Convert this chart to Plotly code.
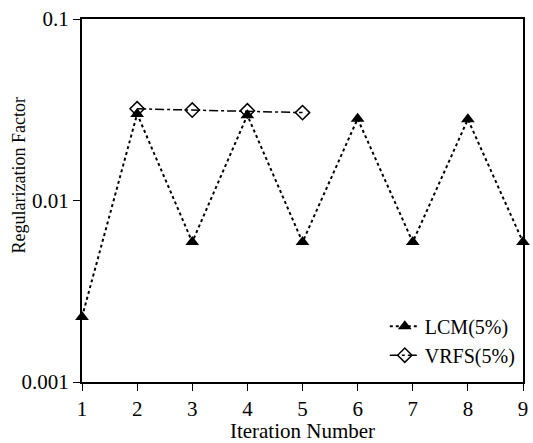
import plotly.graph_objects as go

iterations = [1, 2, 3, 4, 5, 6, 7, 8, 9]
lcm_values = [0.00228, 0.0300, 0.0059, 0.0295, 0.0059, 0.0282, 0.0059, 0.0280, 0.0059]
vrfs_iter = [2, 3, 4, 5]
vrfs_values = [0.0320, 0.0315, 0.0312, 0.0305]
ytick_vals = [0.001, 0.01, 0.1]
ytick_text = ["0.001", "0.01", "0.1"]

font_family = "Liberation Serif, DejaVu Serif, serif"

fig = go.Figure()
fig.add_trace(go.Scatter(
    x=iterations, y=lcm_values, mode="lines+markers", name="LCM(5%)",
    line=dict(color="black", width=2, dash="dot"),
    marker=dict(symbol="triangle-up", size=12, color="black"),
    cliponaxis=False,
))
fig.add_trace(go.Scatter(
    x=vrfs_iter, y=vrfs_values, mode="lines+markers", name="VRFS(5%)",
    line=dict(color="black", width=1.5, dash="dashdot"),
    marker=dict(symbol="diamond-open", size=11, color="black", line=dict(width=1.5)),
    cliponaxis=False,
))

fig.update_layout(
    width=533, height=443,
    margin=dict(l=82, r=5, t=19, b=61),
    paper_bgcolor="white", plot_bgcolor="white",
    font=dict(family=font_family, size=20, color="black"),
    showlegend=True,
    legend=dict(x=0.995, y=0.02, xanchor="right", yanchor="bottom",
                bgcolor="rgba(0,0,0,0)", font=dict(size=20),
                itemwidth=30, tracegroupgap=0),
    xaxis=dict(
        range=[1, 9], tickvals=iterations, ticks="outside", ticklen=7,
        tickcolor="black", showline=True, linecolor="black", linewidth=2,
        mirror=True, showgrid=False, zeroline=False,
        title=dict(text="Iteration Number", font=dict(size=21), standoff=0),
        tickfont=dict(size=21),
    ),
    yaxis=dict(
        type="log", range=[-3, -1], tickvals=ytick_vals, ticktext=ytick_text,
        ticks="outside", ticklen=7, tickcolor="black",
        showline=True, linecolor="black", linewidth=2, mirror=True,
        showgrid=False, zeroline=False,
        tickfont=dict(size=21),
    ),
    annotations=[dict(
        text="Regularization Factor", textangle=-90,
        xref="paper", yref="paper", x=-0.142, y=0.57,
        xanchor="center", yanchor="middle", showarrow=False,
        font=dict(size=18),
    )],
)

fig.write_html("out.html")
